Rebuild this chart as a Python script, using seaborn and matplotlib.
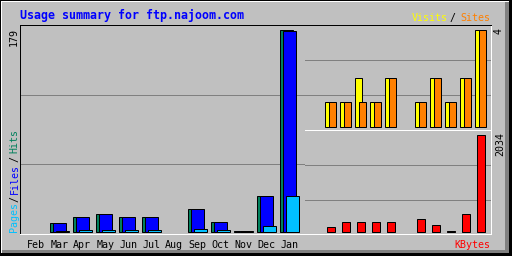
import numpy as np
import matplotlib
matplotlib.use("Agg")
import matplotlib.pyplot as plt
import seaborn as sns
from matplotlib.patches import Rectangle

# ---------------- data ----------------
months = ["Feb", "Mar", "Apr", "May", "Jun", "Jul", "Aug", "Sep", "Oct", "Nov", "Dec", "Jan"]
hits   = [0, 8, 13, 16, 13, 13, 0, 20, 9, 1, 32, 179]
files  = [0, 8, 13, 16, 13, 13, 0, 20, 9, 1, 32, 178]
pages  = [0, 1, 2, 2, 2, 2, 0, 3, 2, 1, 5, 32]
visits = [0, 1, 1, 2, 1, 2, 0, 1, 2, 1, 2, 4]
sites  = [0, 1, 1, 1, 1, 2, 0, 1, 2, 1, 2, 4]
kbytes = [0, 119, 203, 223, 203, 203, 0, 286, 140, 15, 370, 2034]
title = "Usage summary for ftp.najoom.com"

# ---------------- style ----------------
BG = "#C0C0C0"; GRID = "#808080"
C_HITS = "#00805C"; C_FILES = "#0000FF"; C_PAGES = "#00C0FF"
C_VISITS = "#FFFF00"; C_SITES = "#FF8000"; C_KB = "#FF0000"
MONO = "DejaVu Sans Mono"
PX = 0.72  # 1 pixel in points at 100 dpi
W, H = 512, 256

fig = plt.figure(figsize=(W / 100, H / 100), dpi=100, facecolor=BG)

def ax_px(l, t, r, b, z=0):
    a = fig.add_axes([l / W, 1 - b / H, (r - l) / W, (b - t) / H], zorder=z)
    a.set_facecolor(BG)
    return a

# background / frame layer in pixel coords
bg = fig.add_axes([0, 0, 1, 1], zorder=-10)
bg.set_xlim(0, W); bg.set_ylim(H, 0); bg.axis("off")
def prect(x, y, w, h, c):
    bg.add_patch(Rectangle((x, y), w, h, facecolor=c, edgecolor="none", lw=0, antialiased=False))
prect(0, 0, W, H, BG)
prect(1, 1, W - 4, 1, "white")
prect(1, 1, 1, H - 4, "white")
prect(505, 2, 4, 251, GRID)
prect(2, 250, 507, 3, GRID)
prect(0, 0, W, 1, "black")
prect(0, 0, 1, H, "black")
prect(509, 0, 3, H, "black")
prect(0, 253, W, 3, "black")

pos = np.arange(len(months))

def bars(ax, xs, vals, color, width):
    sns.barplot(x=xs, y=vals, native_scale=True, orient="x", width=width,
                color=color, saturation=1, edgecolor="black", linewidth=PX,
                errorbar=None, ax=ax)

def finish(ax, spines):
    for p in ax.patches:
        if p.get_height() == 0:
            p.set_visible(False)
    ax.set_xlabel(""); ax.set_ylabel("")
    ax.set_yticks([])
    for side, c in spines.items():
        if c is None:
            ax.spines[side].set_visible(False)
        else:
            ax.spines[side].set_color(c)
            ax.spines[side].set_linewidth(PX)
            ax.spines[side].set_visible(True)

def grid(ax, fracs):
    for f in fracs:
        ax.plot([0, 1], [f, f], transform=ax.transAxes, color=GRID, lw=PX, zorder=0.5)

# ---------------- main panel ----------------
axm = ax_px(20, 25, 305, 234)
grid(axm, (1 / 3, 2 / 3))
bars(axm, pos - 0.13, hits, C_HITS, 0.552)
bars(axm, pos + 0.0, files, C_FILES, 0.552)
bars(axm, pos + 0.13, pages, C_PAGES, 0.552)
finish(axm, {"top": "black", "left": "black", "bottom": "white", "right": "white"})
axm.set_xlim(-0.7043, 11.687)
axm.set_ylim(-1.768, 182.98)
axm.set_xticks(pos)
axm.set_xticklabels(months, fontsize=7.2, family=MONO)
axm.tick_params(axis="x", length=0, pad=14.3 * PX)
for t in axm.get_xticklabels():
    t.set_va("baseline")

# ---------------- visits / sites panel ----------------
axt = ax_px(305, 25, 491, 130)
grid(axt, (1 / 3, 2 / 3))
bars(axt, pos - 0.143, visits, C_VISITS, 0.447)
bars(axt, pos + 0.123, sites, C_SITES, 0.447)
finish(axt, {"top": "black", "left": None, "bottom": "white", "right": "white"})
axt.set_xticks([])
axt.set_xlim(-0.733, 11.667)
axt.set_ylim(-0.1316, 4.185)

# ---------------- kbytes panel ----------------
axb = ax_px(305, 130, 491, 234)
grid(axb, (0.327, 0.663))
bars(axb, pos, kbytes, C_KB, 0.56)
finish(axb, {"top": "white", "left": None, "bottom": "white", "right": "white"})
axb.set_xticks([])
axb.set_xlim(-0.733, 11.667)
axb.set_ylim(-37.6, 2134.2)

# ---------------- texts ----------------
fs = 7.2
bg.text(20, 18.5, title, color=C_FILES, fontsize=8.35, family=MONO, weight="bold",
        ha="left", va="baseline")
bg.text(411.5, 21, "Visits", color=C_VISITS, fontsize=fs, family=MONO, ha="left", va="baseline")
bg.text(450, 21, "/", color="black", fontsize=fs, family=MONO, ha="left", va="baseline")
bg.text(460, 21, "Sites", color=C_SITES, fontsize=fs, family=MONO, ha="left", va="baseline")
bg.text(490, 248, "KBytes", color=C_KB, fontsize=fs, family=MONO, ha="right", va="baseline")

def up(x, y, s, c, ha):
    bg.text(x, y, s, color=c, fontsize=fs, family=MONO, rotation=90,
            rotation_mode="anchor", ha=ha, va="baseline")

up(17, 27.7, str(max(hits)), "black", "right")
up(17.5, 232, "Pages", C_PAGES, "left")
up(17.5, 201.5, "/", "black", "left")
up(17.5, 193.5, "Files", C_FILES, "left")
up(17.5, 161.5, "/", "black", "left")
up(17.5, 153.3, "Hits", C_HITS, "left")
up(502, 27.7, str(max(visits)), "black", "right")
up(503, 132.3, str(max(kbytes)), "black", "right")

fig.savefig("out.png", dpi=100, facecolor=BG)
